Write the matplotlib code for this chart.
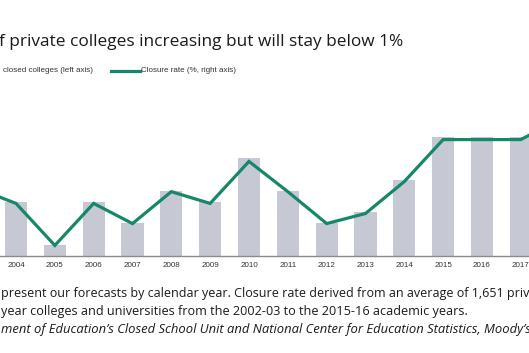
import matplotlib
matplotlib.use("Agg")
import matplotlib.pyplot as plt
from matplotlib.lines import Line2D

W, H, DPI = 529, 353, 100

years = [2003, 2004, 2005, 2006, 2007, 2008, 2009, 2010, 2011, 2012, 2013, 2014, 2015, 2016, 2017, 2018]
closures = [6, 5, 1, 5, 3, 6, 5, 9, 6, 3, 4, 7, 11, 11, 11, 13]
closure_rate = [0.40, 0.31, 0.06, 0.31, 0.19, 0.38, 0.31, 0.56, 0.38, 0.19, 0.25, 0.44, 0.69, 0.69, 0.69, 0.81]
tick_years = list(range(2003, 2019))

title = "f private colleges increasing but will stay below 1%"
legend_bar = "closed colleges (left axis)"
legend_line = "Closure rate (%, right axis)"
notes = [
    "present our forecasts by calendar year. Closure rate derived from an average of 1,651 private",
    "year colleges and universities from the 2002-03 to the 2015-16 academic years.",
]
source = "ment of Education\u2019s Closed School Unit and National Center for Education Statistics, Moody\u2019s"

BAR = "#c6c9d3"
GREEN = "#17876a"

fig = plt.figure(figsize=(W / DPI, H / DPI), dpi=DPI)

bottom = 1 - 255.5 / H
top = 1 - 90 / H
ax = fig.add_axes([0, bottom, 1, top - bottom])
ax.bar(years, closures, width=0.57, color=BAR, zorder=2)
x0 = 2004 - 16 / 38.83
x1 = x0 + W / 38.83
ax.set_xlim(x0, x1)
ax.set_ylim(0, 165.5 / 10.8)
ax.set_xticks(tick_years)
ax.set_xticklabels([str(y) for y in tick_years], fontsize=5.8, family="Liberation Sans", color="#333333")
ax.tick_params(axis="x", length=0, pad=5)
ax.set_yticks([])
for s in ["top", "left", "right"]:
    ax.spines[s].set_visible(False)
ax.spines["bottom"].set_color("#8a8a8a")
ax.spines["bottom"].set_linewidth(1.0)
ax.patch.set_visible(False)

ax2 = ax.twinx()
ax2.plot(years, closure_rate, color=GREEN, lw=2.3, zorder=3, solid_joinstyle="miter")
ax2.set_ylim(0, 165.5 / 168)
ax2.set_yticks([])
for s in ["top", "left", "right", "bottom"]:
    ax2.spines[s].set_visible(False)
ax2.set_xlim(x0, x1)

def fx(px):
    return px / W

def fy(py):
    return 1 - py / H

fig.text(fx(-1), fy(42), title, fontsize=12.4, family="Open Sans", color="#1a1a1a", va="center", ha="left")
fig.text(fx(3), fy(71), legend_bar, fontsize=5.8, family="Liberation Sans", color="#333333", va="center", ha="left")
fig.add_artist(Line2D([fx(111), fx(140)], [fy(71), fy(71)], color=GREEN, lw=2.3, transform=fig.transFigure))
fig.text(fx(141), fy(71), legend_line, fontsize=5.8, family="Liberation Sans", color="#333333", va="center", ha="left")

fig.text(fx(1), fy(293), notes[0], fontsize=9.0, family="Open Sans", color="#1a1a1a", va="center", ha="left")
fig.text(fx(1), fy(311), notes[1], fontsize=9.1, family="Open Sans", color="#1a1a1a", va="center", ha="left")
fig.text(fx(1), fy(329), source, fontsize=9.4, family="Open Sans", style="italic", color="#1a1a1a", va="center", ha="left")

fig.savefig("out.png", dpi=DPI)
